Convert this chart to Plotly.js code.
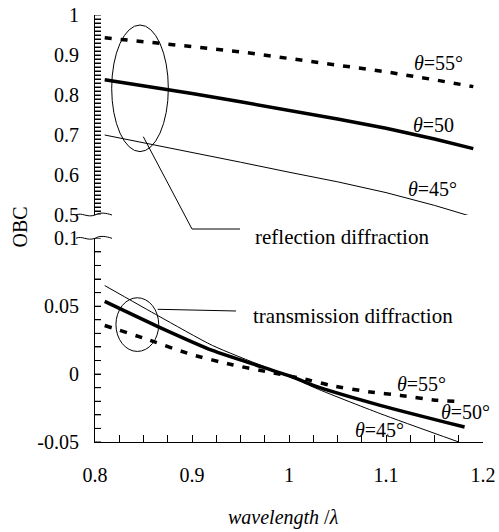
<!DOCTYPE html>
<html><head><meta charset="utf-8">
<script src="https://cdn.plot.ly/plotly-3.0.1.min.js"></script>
<style>body{margin:0;background:#fff}#chart{width:499px;height:532px}
#pre{position:absolute;left:-9999px;top:0;font-family:"Liberation Serif","Times New Roman",serif;font-size:20px}
#pre i{font-style:italic}</style>
</head><body><div id="pre">0.9 θ λ abc <i>wavelength θ λ</i></div><div id="chart"></div>
<script>
// Reflection diffraction (upper panel)
const xRefl = [0.81, 0.85, 0.9, 0.95, 1.0, 1.05, 1.1, 1.15, 1.19];
const refl55 = [0.943, 0.934, 0.921, 0.908, 0.892, 0.875, 0.858, 0.838, 0.821];
const refl50 = [0.838, 0.823, 0.804, 0.783, 0.762, 0.740, 0.717, 0.690, 0.666];
const refl45 = [0.700, 0.681, 0.657, 0.632, 0.607, 0.583, 0.556, 0.524, 0.495];
// Transmission diffraction (lower panel)
const xTr45 = [0.81, 0.866, 0.921, 0.973, 1.004, 1.025, 1.094, 1.175];
const tr45 = [0.0652, 0.0426, 0.0211, 0.0059, -0.0022, -0.0096, -0.0291, -0.05];
const xTr50 = [0.81, 0.866, 0.921, 0.973, 1.004, 1.025, 1.094, 1.181];
const tr50 = [0.0535, 0.0346, 0.0174, 0.0051, -0.0022, -0.0083, -0.023, -0.039];
const xTr55 = [0.81, 0.852, 0.9, 0.9415, 0.979, 1.022, 1.0425, 1.084, 1.115, 1.153, 1.177];
const tr55 = [0.0358, 0.026, 0.0143, 0.0069, 0.0015, -0.0046, -0.0083, -0.0132, -0.0157, -0.0193, -0.0201];
// Tick labels
const xTicks = [0.8, 0.9, 1.0, 1.1, 1.2];
const xTickText = ['0.8', '0.9', '1', '1.1', '1.2'];
const yTopTicks = [0.5, 0.6, 0.7, 0.8, 0.9, 1.0];
const yTopText = ['0.5', '0.6', '0.7', '0.8', '0.9', '1'];
const yBotTicks = [-0.05, 0, 0.05, 0.1];
const yBotText = ['-0.05', '0', '0.05', '0.1'];

const FONT = '"Liberation Serif", "Times New Roman", Times, serif';
const W = 499, H = 532, ML = 95, MR = 16, MT = 15, MB = 90;
const pw = W - ML - MR, ph = H - MT - MB;
const P = (px, py) => [(px - ML) / pw, (H - MB - py) / ph];
const pt = (px, py) => { const p = P(px, py); return p[0].toFixed(4) + ',' + p[1].toFixed(4); };

function tickSet(lo, hi, step, major, majorText) {
  const vals = [], text = [];
  const n = Math.round((hi - lo) / step);
  for (let i = 0; i <= n; i++) {
    const v = +(lo + i * step).toFixed(4);
    const k = major.findIndex(m => Math.abs(m - v) < 1e-6);
    vals.push(v); text.push(k >= 0 ? majorText[k] : '');
  }
  return {tickvals: vals, ticktext: text};
}

const thick = {color: '#000', width: 3.5};
const thin = {color: '#000', width: 1};
const dotted = {color: '#000', width: 3.5, dash: '7px,9px'};

const traces = [
  {x: xRefl, y: refl55, yaxis: 'y2', mode: 'lines', line: dotted},
  {x: xRefl, y: refl50, yaxis: 'y2', mode: 'lines', line: thick},
  {x: xRefl, y: refl45, yaxis: 'y2', mode: 'lines', line: thin},
  {x: xTr55, y: tr55, mode: 'lines', line: Object.assign({shape: 'spline', smoothing: 0.6}, dotted)},
  {x: xTr50, y: tr50, mode: 'lines', line: Object.assign({shape: 'spline', smoothing: 0.6}, thick)},
  {x: xTr45, y: tr45, mode: 'lines', line: Object.assign({shape: 'spline', smoothing: 0.6}, thin)}
];

function squiggle(py) {
  return 'M' + pt(76, py) + ' C' + pt(82, py - 3) + ' ' + pt(87, py + 3) + ' ' + pt(95, py) +
         ' C' + pt(100, py - 3) + ' ' + pt(106, py - 2) + ' ' + pt(112, py);
}

const botSet = tickSet(-0.05, 0.1, 0.01, yBotTicks, yBotText);
const topSet = tickSet(0.5, 1.0, 0.01, yTopTicks, yTopText);

const shapes = [
  {type: 'circle', xref: 'x', yref: 'y2', x0: 0.8172, x1: 0.8756, y0: 0.6585, y1: 0.975, line: {color: '#000', width: 1}},
  {type: 'circle', xref: 'x', yref: 'y', x0: 0.8216, x1: 0.8657, y0: 0.0167, y1: 0.0562, line: {color: '#000', width: 1}},
  {type: 'path', xref: 'paper', yref: 'paper', path: 'M' + pt(143.3, 136.7) + ' L' + pt(192, 229) + ' L' + pt(240, 229), line: {color: '#000', width: 1}},
  {type: 'path', xref: 'paper', yref: 'paper', path: 'M' + pt(157.7, 309.3) + ' L' + pt(236, 311), line: {color: '#000', width: 1}},
  {type: 'path', xref: 'paper', yref: 'paper', path: squiggle(215), line: {color: '#000', width: 1}},
  {type: 'path', xref: 'paper', yref: 'paper', path: squiggle(238.3), line: {color: '#000', width: 1}}
];
// inward tick marks on the two broken y axes, at the axes' own tick values
botSet.tickvals.forEach(v => shapes.push({type: 'line', xref: 'paper', yref: 'y', x0: 0, x1: 6 / pw, y0: v, y1: v, line: {color: '#000', width: 1}}));
topSet.tickvals.forEach(v => shapes.push({type: 'line', xref: 'paper', yref: 'y2', x0: 0, x1: 6 / pw, y0: v, y1: v, line: {color: '#000', width: 1}}));

function ann(text, px, py, opts) {
  const p = P(px, py);
  return Object.assign({text: text, xref: 'paper', yref: 'paper', x: p[0], y: p[1], showarrow: false,
    xanchor: 'center', yanchor: 'middle', font: {family: FONT, size: 20, color: '#000'}}, opts || {});
}

const annotations = [
  ann('<i>θ</i>=55°', 438, 63),
  ann('<i>θ</i>=50', 433.5, 125),
  ann('<i>θ</i>=45°', 432.5, 189),
  ann('<i>θ</i>=55°', 421, 384),
  ann('<i>θ</i>=50°', 465, 412),
  ann('<i>θ</i>=45°', 379.5, 430),
  ann('reflection diffraction', 253, 237, {xanchor: 'left', font: {family: FONT, size: 21, color: '#000'}}),
  ann('transmission diffraction', 251, 316, {xanchor: 'left', font: {family: FONT, size: 21, color: '#000'}}),
  ann('OBC', 19.5, 227, {textangle: -90}),
  ann('<i>wavelength</i> /<i>λ</i>', 283, 517)
];

const axBase = () => ({showgrid: false, zeroline: false, showline: true, linecolor: '#000', linewidth: 1,
  ticks: 'inside', tickcolor: '#000', tickwidth: 1, tickmode: 'array',
  tickfont: {family: FONT, size: 20, color: '#000'}});

const layout = {
  width: W, height: H, margin: {l: ML, r: MR, t: MT, b: MB},
  font: {family: FONT, color: '#000'},
  paper_bgcolor: '#fff', plot_bgcolor: 'rgba(0,0,0,0)', showlegend: false,
  xaxis: Object.assign(axBase(), tickSet(0.8, 1.2, 0.025, xTicks, xTickText),
    {range: [0.8, 1.2], anchor: 'y', ticklen: 7, ticklabelstandoff: 15}),
  yaxis: Object.assign(axBase(), botSet,
    {range: [-0.05, 0.1], domain: [0, (H - MB - 238.3) / ph], anchor: 'x', ticklen: 6, ticklabelstandoff: 11}),
  yaxis2: Object.assign(axBase(), topSet,
    {range: [0.5, 1], domain: [(H - MB - 215) / ph, 1], anchor: 'x', ticklen: 6, ticklabelstandoff: 11}),
  shapes: shapes,
  annotations: annotations
};

const gd = document.getElementById('chart');
Plotly.newPlot(gd, traces, layout, {displayModeBar: false}).then(() => {
  void getComputedStyle(document.getElementById('pre')).fontFamily;
  if (document.fonts && document.fonts.ready) {
    document.fonts.ready.then(() => Plotly.redraw(gd));
  }
});
</script>
</body></html>
